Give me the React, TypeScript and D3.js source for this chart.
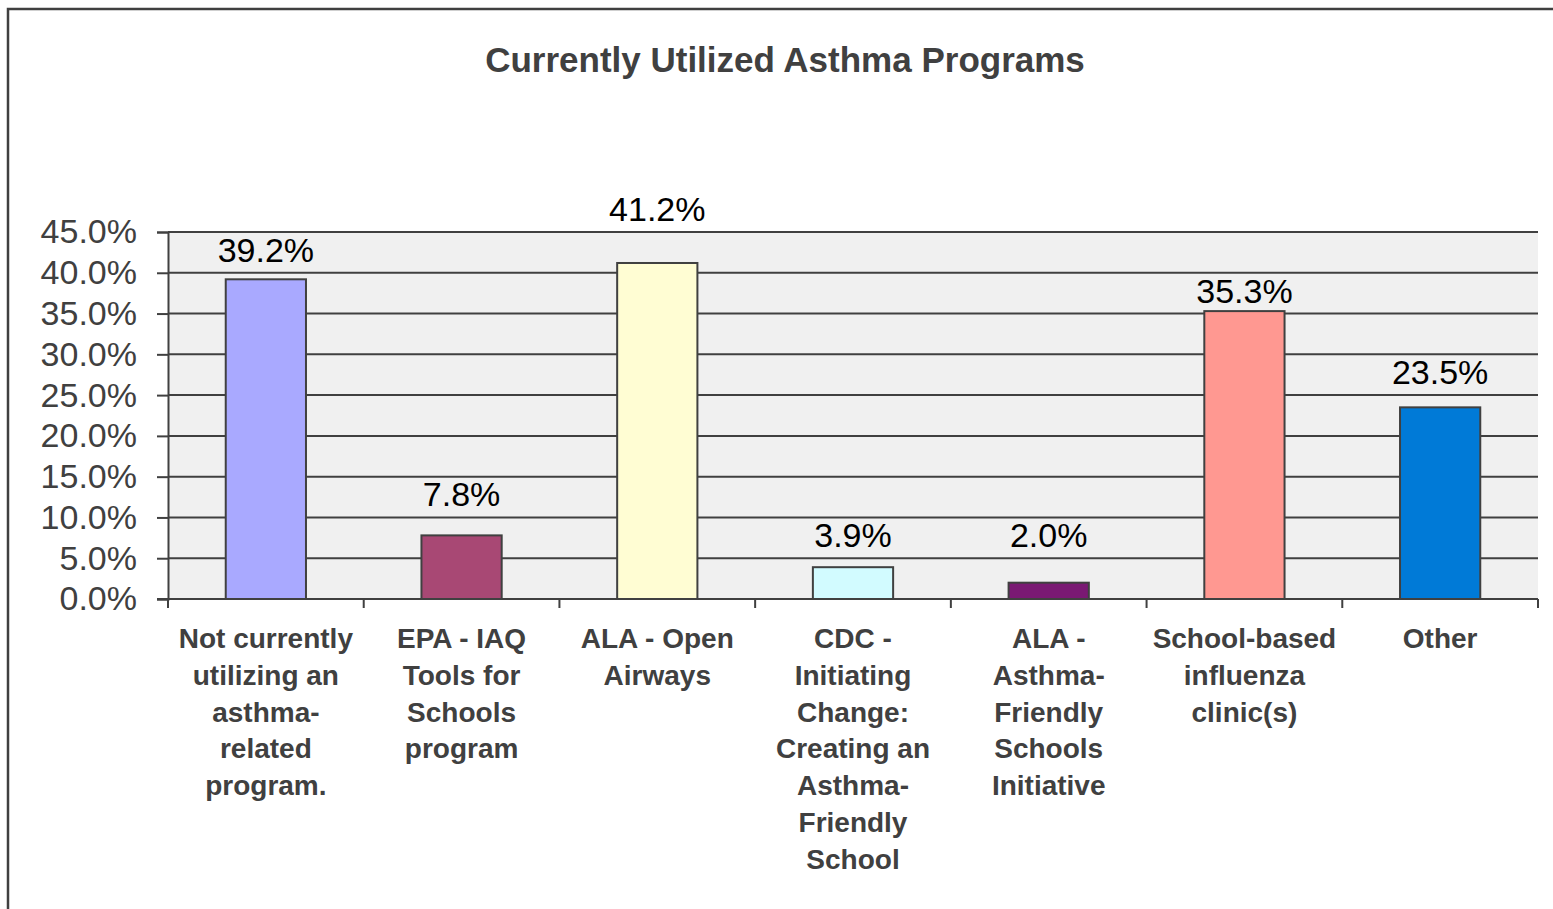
import React, { useRef, useEffect } from "react";
import * as d3 from "d3";

const title = "Currently Utilized Asthma Programs";

const categories = [
  "Not currently\nutilizing an\nasthma-\nrelated\nprogram.",
  "EPA - IAQ\nTools for\nSchools\nprogram",
  "ALA - Open\nAirways",
  "CDC -\nInitiating\nChange:\nCreating an\nAsthma-\nFriendly\nSchool",
  "ALA -\nAsthma-\nFriendly\nSchools\nInitiative",
  "School-based\ninfluenza\nclinic(s)",
  "Other",
];

const values = [39.2, 7.8, 41.2, 3.9, 2.0, 35.3, 23.5];

const barColors = ["#a9a9ff", "#a84874", "#fffdd3", "#d2fbff", "#7a1973", "#ff9891", "#007ad7"];

const yTicks = [0, 5, 10, 15, 20, 25, 30, 35, 40, 45];

const FONT = "'Liberation Sans', Arial, sans-serif";
const INK = "#404040";

const Chart = () => {
  const svgRef = useRef(null);

  useEffect(() => {
    const svg = d3.select(svgRef.current);
    svg.selectAll("*").remove();

    const width = 1553;
    const height = 909;
    const plot = { left: 168, right: 1538, top: 232, bottom: 599 };

    svg.attr("width", width).attr("height", height);

    // outer frame (runs off the right and bottom of the picture)
    svg
      .append("rect")
      .attr("x", 8)
      .attr("y", 9)
      .attr("width", 1700)
      .attr("height", 1000)
      .attr("fill", "#fff")
      .attr("stroke", INK)
      .attr("stroke-width", 2.5);

    svg
      .append("text")
      .attr("x", 785)
      .attr("y", 72)
      .attr("text-anchor", "middle")
      .attr("font-family", FONT)
      .attr("font-weight", "bold")
      .attr("font-size", 35)
      .attr("fill", INK)
      .text(title);

    const x = d3
      .scaleBand()
      .domain(categories)
      .range([plot.left, plot.right])
      .paddingInner(0.59)
      .paddingOuter(0.295);

    const y = d3.scaleLinear().domain([0, 45]).range([plot.bottom, plot.top]);

    // plot background
    svg
      .append("rect")
      .attr("x", plot.left)
      .attr("y", plot.top)
      .attr("width", plot.right - plot.left)
      .attr("height", plot.bottom - plot.top)
      .attr("fill", "#f0f0f0");

    // gridlines
    svg
      .append("g")
      .selectAll("line")
      .data(yTicks)
      .enter()
      .append("line")
      .attr("x1", plot.left)
      .attr("x2", plot.right)
      .attr("y1", d => y(d))
      .attr("y2", d => y(d))
      .attr("stroke", INK)
      .attr("stroke-width", 2);

    // y axis
    const yAxis = svg
      .append("g")
      .attr("transform", `translate(${plot.left},0)`)
      .call(
        d3
          .axisLeft(y)
          .tickValues(yTicks)
          .tickSize(11)
          .tickPadding(20)
          .tickFormat(d => `${d.toFixed(1)}%`)
      );
    yAxis.select(".domain").attr("stroke", INK).attr("stroke-width", 2);
    yAxis.selectAll(".tick line").attr("stroke", INK).attr("stroke-width", 2);
    yAxis
      .selectAll(".tick text")
      .attr("font-family", FONT)
      .attr("font-size", 34)
      .attr("fill", INK);

    // x axis line + category boundary ticks
    const xAxis = svg.append("g");
    xAxis
      .append("line")
      .attr("x1", plot.left - 11)
      .attr("x2", plot.right)
      .attr("y1", plot.bottom)
      .attr("y2", plot.bottom)
      .attr("stroke", INK)
      .attr("stroke-width", 2);
    xAxis
      .selectAll(".xtick")
      .data(d3.range(categories.length + 1))
      .enter()
      .append("line")
      .attr("x1", i => plot.left + i * x.step())
      .attr("x2", i => plot.left + i * x.step())
      .attr("y1", plot.bottom)
      .attr("y2", plot.bottom + 9)
      .attr("stroke", INK)
      .attr("stroke-width", 2);

    // bars
    svg
      .append("g")
      .selectAll("rect")
      .data(values)
      .enter()
      .append("rect")
      .attr("x", (d, i) => x(categories[i]))
      .attr("y", d => y(d))
      .attr("width", x.bandwidth())
      .attr("height", d => y(0) - y(d))
      .attr("fill", (d, i) => barColors[i])
      .attr("stroke", INK)
      .attr("stroke-width", 2);

    // value labels: sit just above the gridline nearest over the bar top
    svg
      .append("g")
      .selectAll("text")
      .data(values)
      .enter()
      .append("text")
      .attr("x", (d, i) => x(categories[i]) + x.bandwidth() / 2)
      .attr("y", d => y(Math.ceil((d - 0.5) / 5) * 5) - 11)
      .attr("text-anchor", "middle")
      .attr("font-family", FONT)
      .attr("font-size", 34)
      .attr("fill", "#000")
      .text(d => `${d.toFixed(1)}%`);

    // category labels
    const cat = svg
      .append("g")
      .selectAll("text")
      .data(categories)
      .enter()
      .append("text")
      .attr("x", d => x(d) + x.bandwidth() / 2)
      .attr("y", 648)
      .attr("text-anchor", "middle")
      .attr("font-family", FONT)
      .attr("font-weight", "bold")
      .attr("font-size", 28)
      .attr("fill", INK);
    cat
      .selectAll("tspan")
      .data(d => d.split("\n").map(line => ({ line, cx: x(d) + x.bandwidth() / 2 })))
      .enter()
      .append("tspan")
      .attr("x", d => d.cx)
      .attr("dy", (d, i) => (i === 0 ? 0 : 36.8))
      .text(d => d.line);
  }, []);

  return <svg ref={svgRef} style={{ position: "fixed", left: 0, top: 0, display: "block" }}></svg>;
};

export default function App() {
  return <Chart />;
}
